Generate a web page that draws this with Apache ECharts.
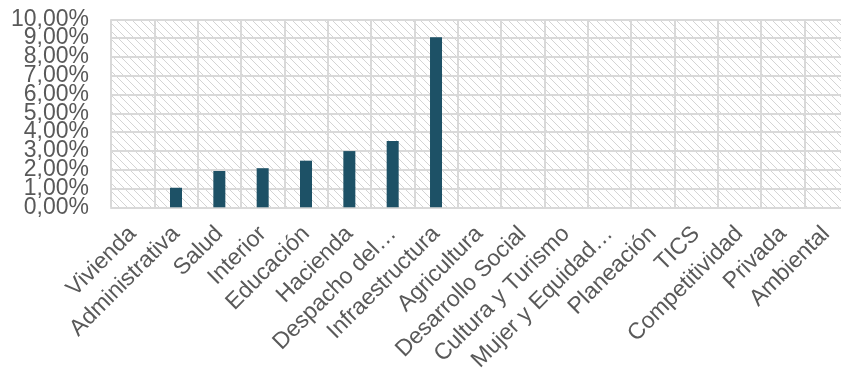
<!DOCTYPE html>
<html>
<head>
<meta charset="utf-8">
<script src="https://cdn.jsdelivr.net/npm/echarts@6/dist/echarts.min.js"></script>
<style>html,body{margin:0;padding:0;background:#fff;}#c{width:841px;height:369px;}</style>
</head>
<body>
<div id="c"></div>
<script>
var categories = ["Vivienda","Administrativa","Salud","Interior","Educación","Hacienda","Despacho del…","Infraestructura","Agricultura","Desarrollo Social","Cultura y Turismo","Mujer y Equidad…","Planeación","TICS","Competitividad","Privada","Ambiental"];
var values = [0, 1.04, 1.93, 2.08, 2.48, 2.99, 3.52, 9.04, 0, 0, 0, 0, 0, 0, 0, 0, 0];
var yTicks = {min: 0, max: 10, interval: 1};

var pc = document.createElement('canvas');
pc.width = 8; pc.height = 8;
var ctx = pc.getContext('2d');
ctx.fillStyle = '#ffffff';
ctx.fillRect(0,0,8,8);
ctx.fillStyle = '#d4d4d4';
for (var i = 0; i < 8; i++) { ctx.fillRect(i, i, 1, 1); }

var fmt = function(v){ return v.toFixed(2).replace('.', ',') + '%'; };
var labelStyle = {fontSize: 23, color: '#595959', fontFamily: 'Liberation Sans, Arial', margin: 22};

var gTop = 19.3, gH = 188, step = gH / (yTicks.max - yTicks.min);

var chart = echarts.init(document.getElementById('c'), null, {renderer: 'canvas'});
chart.setOption({
  animation: false,
  grid: [
    {left: 111, top: gTop, width: 736.7, height: gH, show: true, borderWidth: 0,
     outerBoundsMode: 'none', containLabel: false,
     backgroundColor: {image: pc, repeat: 'repeat'}},
    {left: 111, top: gTop - step, width: 736.7, height: gH + 2 * step, show: false,
     outerBoundsMode: 'none', containLabel: false}
  ],
  xAxis: [{
    type: 'category', data: categories, gridIndex: 0,
    axisLine: {show: true, lineStyle: {color: '#d9d9d9', width: 2}},
    axisTick: {show: false},
    splitLine: {show: true, interval: 0, lineStyle: {color: '#d9d9d9', width: 2}},
    axisLabel: {interval: 0, rotate: 45, fontSize: 23, color: '#595959', fontFamily: 'Liberation Sans, Arial', margin: 23, hideOverlap: false}
  }, {
    type: 'category', data: categories, gridIndex: 1, show: false
  }],
  yAxis: [{
    type: 'value', gridIndex: 0, min: yTicks.min, max: yTicks.max, interval: yTicks.interval * 2,
    axisLine: {show: false}, axisTick: {show: false},
    splitLine: {show: false},
    axisLabel: Object.assign({showMinLabel: true, showMaxLabel: true, formatter: fmt}, labelStyle)
  }, {
    type: 'value', gridIndex: 0, min: yTicks.min, max: yTicks.max, interval: yTicks.interval,
    axisLine: {show: false}, axisTick: {show: false}, axisLabel: {show: false},
    splitLine: {show: true, lineStyle: {color: '#d9d9d9', width: 2}}
  }, {
    type: 'value', gridIndex: 1, min: yTicks.min - yTicks.interval, max: yTicks.max + yTicks.interval, interval: yTicks.interval * 2,
    axisLine: {show: false}, axisTick: {show: false}, splitLine: {show: false},
    axisLabel: Object.assign({showMinLabel: false, showMaxLabel: false, formatter: fmt}, labelStyle)
  }],
  series: [{type: 'bar', xAxisIndex: 0, yAxisIndex: 0, data: values, barWidth: 12, itemStyle: {color: '#1d5166'}, z: 3}]
});
</script>
</body>
</html>
